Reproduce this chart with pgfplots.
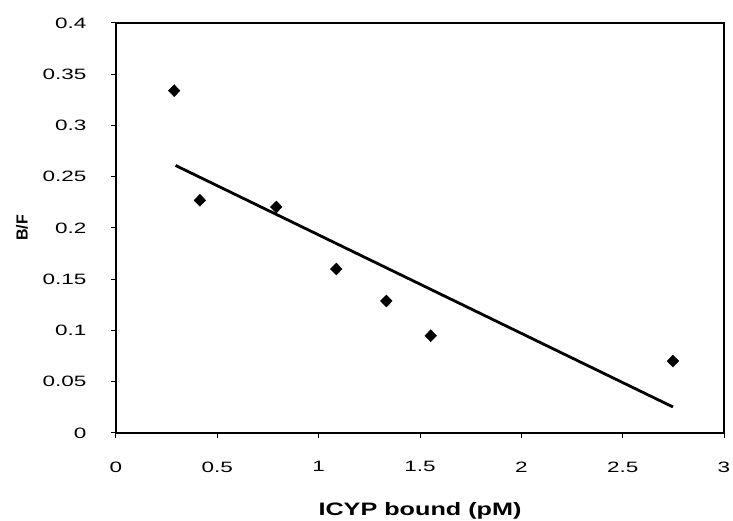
\documentclass[border=0pt]{standalone}
\usepackage{pgfplots}
\pgfplotsset{compat=1.18}
\usepackage{fontspec}
\setmainfont{Liberation Sans}
\newfontfamily\wide{Liberation Sans}[FakeStretch=1.5]
\newfontfamily\widelabel{Liberation Sans}[FakeStretch=1.4]
\begin{document}
\begin{tikzpicture}
\begin{axis}[
  at={(0,0)}, anchor=south west,
  scale only axis, width=608pt, height=410pt,
  xmin=0, xmax=3, ymin=0, ymax=0.4,
  xtick={0,0.5,1,1.5,2,2.5,3},
  xticklabels={0,0.5,1,1.5,2,2.5,3},
  ytick={0,0.05,0.1,0.15,0.2,0.25,0.3,0.35,0.4},
  yticklabels={0,0.05,0.1,0.15,0.2,0.25,0.3,0.35,0.4},
  tick align=outside, major tick length=5pt,
  xtick pos=bottom, ytick pos=left,
  axis line style={line width=1.8pt},
  tick style={line width=1pt, black},
  ticklabel style={font=\wide\fontsize{15}{18}\selectfont},
  xticklabel style={yshift=-20pt},
  yticklabel style={xshift=-21pt},
  xlabel={\textbf{ICYP bound (pM)}},
  ylabel={\textbf{B/F}},
  xlabel style={font=\widelabel\fontsize{18}{22}\selectfont, at={(axis description cs:0.5,0)}, anchor=center, yshift=-78pt},
  ylabel style={font=\fontsize{16}{19}\selectfont, at={(axis description cs:0,0.5)}, anchor=center, yshift=94pt},
  clip=false,
]
\addplot[only marks, mark=diamond*, mark size=6pt, mark options={xscale=1.3}, black] coordinates {
  (0.287,0.334) (0.414,0.227) (0.791,0.2205) (1.087,0.160)
  (1.334,0.1288) (1.553,0.0949) (2.748,0.0702)
};
\addplot[black, line width=2.8pt] coordinates {(0.294,0.261) (2.748,0.0254)};
\end{axis}
\pgfresetboundingbox
\path[use as bounding box] (-116pt,-88pt) rectangle (617pt,433pt);
\end{tikzpicture}
\end{document}
